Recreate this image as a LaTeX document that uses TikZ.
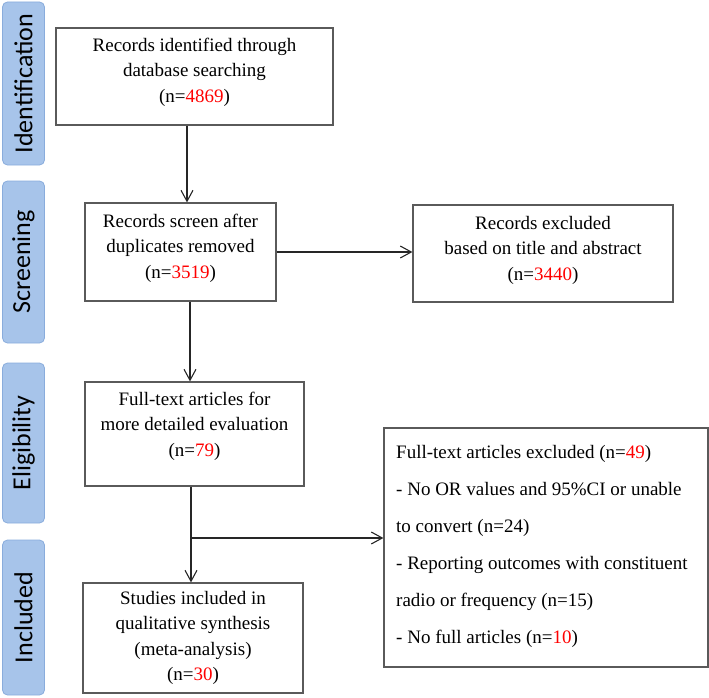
\documentclass[tikz,border=0pt]{standalone}
\usepackage{fontspec}
\setmainfont{Liberation Serif}
\newfontfamily\sidefont{Carlito}
\usetikzlibrary{arrows.meta}
\definecolor{sidefill}{HTML}{A7C4EA}
\definecolor{sideline}{HTML}{89ACDC}
\definecolor{boxline}{HTML}{5A5A5A}
\definecolor{numred}{HTML}{FF0000}
\newcommand\rn[1]{\textcolor{numred}{#1}}
\begin{document}
\begin{tikzpicture}[x=1pt,y=-1pt,
 side/.style={draw=sideline, fill=sidefill, rounded corners=5pt, line width=0.8pt, rotate=90, minimum width=#1, minimum height=42pt, inner sep=0pt, font=\sidefont\fontsize{26}{30}\selectfont},
 box/.style={draw=boxline, line width=1.2pt, inner sep=0pt},
 txt/.style={align=center, inner sep=0pt, font=\fontsize{19}{25.5}\selectfont},
 conn/.style={draw=black!85, line width=1.1pt, -{Straight Barb[length=11pt,width=12pt,line width=1.1pt]}}]
\useasboundingbox (0,0) rectangle (709,698);

% side labels
\node[side=163pt] (sid) at (23.5,83.5) {Identification};
\node[side=162pt] (ssc) at (23.5,262) {Screening};
\node[side=160pt] (sel) at (23.5,443) {Eligibility};
\node[side=155pt] (sin) at (23.5,617.5) {Included};

% boxes
\node[box, minimum width=277pt, minimum height=97pt] (b1) at (194.5,76.5) {};
\node[txt] (t1) at (194.5,72) {Records identified through\\database searching\\(n=\rn{4869})};

\node[box, minimum width=191pt, minimum height=98pt] (b2) at (180.5,252) {};
\node[txt] (t2) at (180.5,248) {Records screen after\\duplicates removed\\(n=\rn{3519})};

\node[box, minimum width=260pt, minimum height=97pt] (b3) at (543,253.5) {};
\node[txt] (t3) at (543,250) {Records excluded\\based on title and abstract\\(n=\rn{3440})};

\node[box, minimum width=219pt, minimum height=104pt] (b4) at (194.5,434) {};
\node[txt] (t4) at (194.5,426) {Full-text articles for\\more detailed evaluation\\(n=\rn{79})};

\node[box, minimum width=324pt, minimum height=239pt] (b5) at (546,547.5) {};
\node[align=left, inner sep=0pt, anchor=west, font=\fontsize{19}{37}\selectfont] (t5) at (396,546)
 {Full-text articles excluded (n=\rn{49})\\
  - No OR values and 95\%CI or unable\\
  to convert (n=24)\\
  - Reporting outcomes with constituent\\
  radio or frequency (n=15)\\
  - No full articles (n=\rn{10})};

\node[box, minimum width=220pt, minimum height=110pt] (b6) at (193,638) {};
\node[txt] (t6) at (193,638) {Studies included in\\qualitative synthesis\\(meta-analysis)\\(n=\rn{30})};

% connectors
\coordinate (xa) at (187,0);
\coordinate (xb) at (190,0);
\coordinate (br) at (191,538);
\draw[conn] (b1.south -| xa) -- (b2.north -| xa);
\draw[conn] (b2.east) -- (b2.east -| b3.west);
\draw[conn] (b2.south -| xb) -- (b4.north -| xb);
\draw[conn] (b4.south -| br) -- (b6.north -| br);
\draw[conn] (br) -- (br -| b5.west);
\end{tikzpicture}
\end{document}
